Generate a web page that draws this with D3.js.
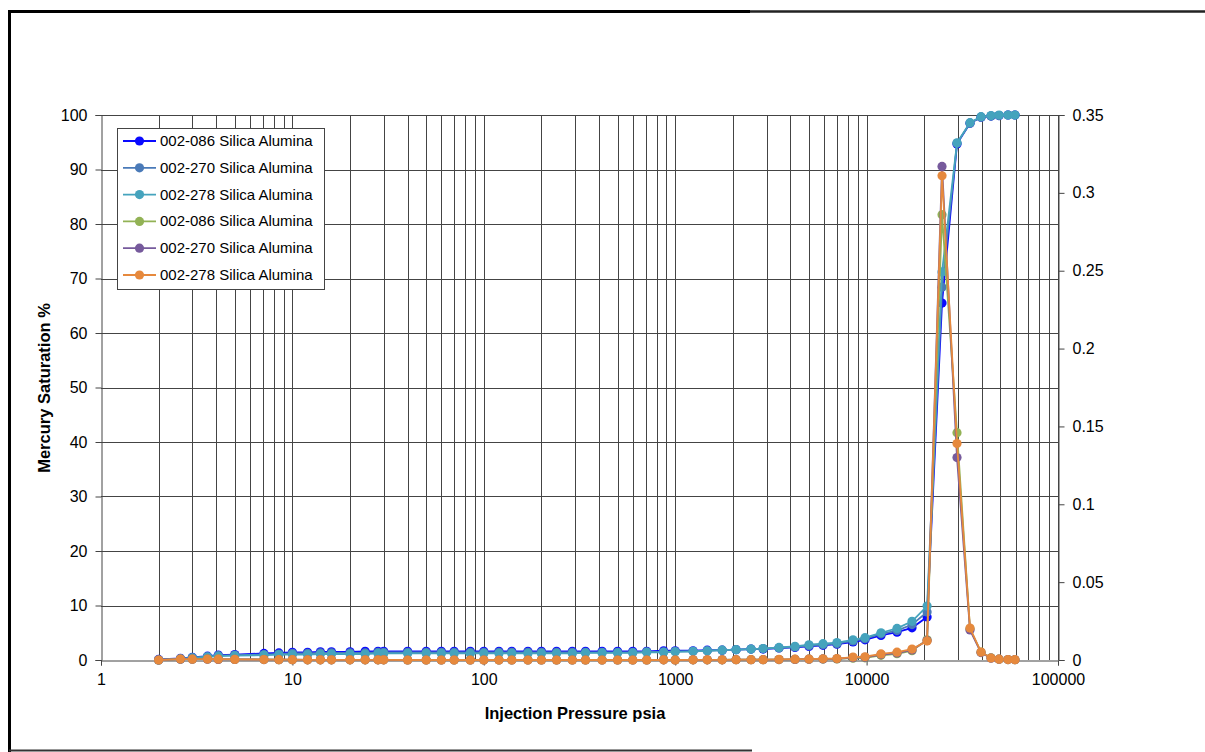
<!DOCTYPE html>
<html>
<head>
<meta charset="utf-8">
<script src="https://cdn.jsdelivr.net/npm/d3@7"></script>
<style>
   body { margin: 0; background: #fff; }
   svg { display: block; font-family: 'Liberation Sans', Arial, sans-serif; }
</style>
</head>
<body>
<div id="chart"></div>
<script>
/** DATA **/
var pressure = [2, 2.6, 3, 3.6, 4.1, 5, 7.1, 8.5, 10,
   12, 14, 16, 20, 24, 28, 30,
   40, 50, 60, 70, 85,
   100, 120, 140, 170, 200, 240, 290, 340, 415, 500, 600, 710, 870,
   1000, 1240, 1470, 1760, 2080, 2490, 2880, 3485, 4225, 5000, 5920, 7000, 8490, 9810,
   11890, 14420, 17270, 20700, 24780, 29670, 34690, 39610, 44670, 49200, 54800, 59600];

// cumulative mercury saturation %, left axis
var sat086 = [0.1, 0.3, 0.5, 0.7, 0.9, 1.0, 1.2, 1.3, 1.4,
   1.4, 1.5, 1.5, 1.5, 1.6, 1.6, 1.6,
   1.6, 1.6, 1.6, 1.6, 1.6,
   1.6, 1.6, 1.6, 1.6, 1.6, 1.6, 1.6, 1.6, 1.6, 1.6, 1.6, 1.6, 1.7,
   1.7, 1.7, 1.8, 1.8, 1.9, 2.0, 2.0, 2.2, 2.3, 2.5, 2.7, 2.9, 3.3, 3.7,
   4.5, 5.1, 5.9, 7.9, 65.5, 94.7, 98.5, 99.6, 99.8, 99.9, 100, 100];
var sat270 = [0, 0.2, 0.4, 0.6, 0.8, 0.9, 1.0, 1.1, 1.2,
   1.2, 1.3, 1.3, 1.3, 1.3, 1.4, 1.4,
   1.4, 1.4, 1.4, 1.4, 1.4,
   1.4, 1.4, 1.4, 1.4, 1.4, 1.4, 1.4, 1.4, 1.4, 1.4, 1.4, 1.5, 1.5,
   1.6, 1.6, 1.7, 1.8, 1.9, 2.0, 2.1, 2.2, 2.4, 2.6, 2.8, 3.0, 3.5, 3.9,
   4.8, 5.4, 6.5, 8.8, 68.4, 94.8, 98.5, 99.6, 99.8, 99.9, 100, 100];
var sat278 = [0, 0.2, 0.4, 0.6, 0.7, 0.8, 0.9, 1.0, 1.0,
   1.0, 1.1, 1.1, 1.1, 1.1, 1.2, 1.2,
   1.2, 1.2, 1.2, 1.2, 1.2,
   1.2, 1.2, 1.2, 1.2, 1.2, 1.2, 1.2, 1.3, 1.3, 1.3, 1.3, 1.4, 1.4,
   1.5, 1.6, 1.7, 1.8, 1.9, 2.0, 2.1, 2.3, 2.5, 2.8, 3.0, 3.2, 3.7, 4.1,
   5.0, 5.8, 7.1, 9.9, 71.2, 94.9, 98.6, 99.7, 99.9, 100, 100, 100];

// incremental intrusion, right axis
var inc086 = [0, 0.0006, 0.0005, 0.0006, 0.0005, 0.0004, 0.0004, 0.0002, 0.0002,
   0.0001, 0.0001, 0.0001, 0.0001, 0.0001, 0.0001, 0.0001,
   0, 0, 0, 0, 0,
   0, 0, 0, 0, 0, 0, 0, 0, 0, 0, 0, 0, 0.0001,
   0, 0.0001, 0.0001, 0.0001, 0.0002, 0.0002, 0.0002, 0.0003, 0.0004, 0.0005, 0.0006, 0.0007, 0.0012, 0.0014,
   0.003, 0.004, 0.006, 0.013, 0.286, 0.146, 0.020, 0.005, 0.0014, 0.0005, 0.0003, 0.0002];
var inc270 = [0, 0.0005, 0.0005, 0.0005, 0.0004, 0.0004, 0.0003, 0.0002, 0.0002,
   0.0001, 0.0001, 0.0001, 0.0001, 0.0001, 0.0001, 0.0001,
   0, 0, 0, 0, 0,
   0, 0, 0, 0, 0, 0, 0, 0, 0, 0, 0, 0, 0.0001,
   0, 0.0001, 0.0001, 0.0001, 0.0002, 0.0002, 0.0002, 0.0003, 0.0004, 0.0005, 0.0007, 0.0008, 0.0015, 0.0017,
   0.0035, 0.0045, 0.0065, 0.0125, 0.317, 0.130, 0.0193, 0.0048, 0.0012, 0.0005, 0.0003, 0.0002];
var inc278 = [0, 0.0006, 0.0005, 0.0006, 0.0005, 0.0004, 0.0003, 0.0002, 0.0002,
   0.0001, 0.0001, 0.0001, 0.0001, 0.0001, 0.0001, 0.0001,
   0, 0, 0, 0, 0,
   0, 0, 0, 0, 0, 0, 0, 0, 0, 0, 0, 0, 0.0001,
   0, 0.0001, 0.0001, 0.0001, 0.0002, 0.0002, 0.0002, 0.0004, 0.0005, 0.0006, 0.0008, 0.0009, 0.0019, 0.0021,
   0.0039, 0.005, 0.007, 0.0122, 0.311, 0.139, 0.0205, 0.0051, 0.0013, 0.0005, 0.0003, 0.0002];

var seriesNames = ['002-086 Silica Alumina', '002-270 Silica Alumina', '002-278 Silica Alumina',
   '002-086 Silica Alumina', '002-270 Silica Alumina', '002-278 Silica Alumina'];
var seriesColors = ['#0a0aff', '#4a7ab8', '#45a3bd', '#92b255', '#765a9c', '#e6893d'];

var xTicks = [1, 10, 100, 1000, 10000, 100000];
var yLeftTicks = [0, 10, 20, 30, 40, 50, 60, 70, 80, 90, 100];
var yRightTicks = [0, 0.05, 0.1, 0.15, 0.2, 0.25, 0.3, 0.35];

/** CHART **/
var width = 1205, height = 752;
var svg = d3.select('#chart').append('svg')
   .attr('width', width)
   .attr('height', height);

var x = d3.scaleLog().domain([1, 100000]).range([101, 1058]);
var yL = d3.scaleLinear().domain([0, 100]).range([660, 115]);
var yR = d3.scaleLinear().domain([0, 0.35]).range([660, 115]);

// outer frame
svg.append('path')
   .attr('d', 'M9.5,752 V11.5 H750')
   .attr('fill', 'none').attr('stroke', '#000').attr('stroke-width', 3);
svg.append('line')
   .attr('x1', 750).attr('x2', 1205).attr('y1', 11.5).attr('y2', 11.5)
   .attr('stroke', '#222').attr('stroke-width', 2.5);
svg.append('line')
   .attr('x1', 9).attr('x2', 752).attr('y1', 750.5).attr('y2', 750.5)
   .attr('stroke', '#333').attr('stroke-width', 2);

// grid
var minor = [];
xTicks.slice(0, -1).forEach(function(d){
   for (var k = 2; k <= 10; k++) minor.push(d * k);
});
var grid = svg.append('g').attr('stroke', '#444').attr('stroke-width', 1);
grid.selectAll('line.v')
   .data(minor)
   .enter().append('line')
   .attr('class', 'v')
   .attr('x1', function(d){ return Math.round(x(d)) + 0.5; })
   .attr('x2', function(d){ return Math.round(x(d)) + 0.5; })
   .attr('y1', yL(100)).attr('y2', yL(0));
grid.selectAll('line.h')
   .data(yLeftTicks.slice(1))
   .enter().append('line')
   .attr('class', 'h')
   .attr('x1', x(1)).attr('x2', x(100000))
   .attr('y1', function(d){ return Math.round(yL(d)) + 0.5; })
   .attr('y2', function(d){ return Math.round(yL(d)) + 0.5; });

// axes
var xAxis = svg.append('g')
   .attr('transform', 'translate(0,660.5)')
   .call(d3.axisBottom(x).tickValues(xTicks).tickFormat(d3.format('d')).tickSize(5).tickPadding(8));
var yAxisL = svg.append('g')
   .attr('transform', 'translate(101.5,0)')
   .call(d3.axisLeft(yL).tickValues(yLeftTicks).tickSize(6).tickPadding(8));
var yAxisR = svg.append('g')
   .attr('transform', 'translate(1058.5,0)')
   .call(d3.axisRight(yR).tickValues(yRightTicks).tickFormat(function(d){ return String(+d.toFixed(2)); }).tickSize(6).tickPadding(8));
[xAxis, yAxisL, yAxisR].forEach(function(a){
   a.selectAll('path.domain').attr('stroke', '#444');
   a.selectAll('.tick line').attr('stroke', '#444');
   a.selectAll('text').attr('font-size', 16).attr('fill', '#000')
      .attr('font-family', "'Liberation Sans', Arial, sans-serif");
});

// axis titles
svg.append('text')
   .attr('transform', 'translate(50,388) rotate(-90)')
   .attr('text-anchor', 'middle')
   .attr('font-size', 16.5).attr('font-weight', 'bold')
   .text('Mercury Saturation %');
svg.append('text')
   .attr('x', 575).attr('y', 719)
   .attr('text-anchor', 'middle')
   .attr('font-size', 16.5).attr('font-weight', 'bold')
   .text('Injection Pressure psia');

// series
var series = [
   { values: sat086, y: yL }, { values: sat270, y: yL }, { values: sat278, y: yL },
   { values: inc086, y: yR }, { values: inc270, y: yR }, { values: inc278, y: yR }
];
series.forEach(function(s, i){
   var pts = pressure.map(function(p, j){ return [x(p), s.y(s.values[j])]; });
   var g = svg.append('g');
   g.append('path')
      .attr('d', d3.line()(pts))
      .attr('fill', 'none')
      .attr('stroke', seriesColors[i])
      .attr('stroke-width', 1.8);
   g.selectAll('circle')
      .data(pts)
      .enter().append('circle')
      .attr('cx', function(d){ return d[0]; })
      .attr('cy', function(d){ return d[1]; })
      .attr('r', 4.6)
      .attr('fill', seriesColors[i]);
});

// legend
var legend = svg.append('g');
legend.append('rect')
   .attr('x', 117.5).attr('y', 128.5).attr('width', 207).attr('height', 161)
   .attr('fill', '#fff').attr('stroke', '#444');
seriesNames.forEach(function(name, i){
   var ly = 141 + i * 26.8;
   legend.append('line')
      .attr('x1', 123).attr('x2', 156).attr('y1', ly).attr('y2', ly)
      .attr('stroke', seriesColors[i]).attr('stroke-width', 1.8);
   legend.append('circle')
      .attr('cx', 139.5).attr('cy', ly).attr('r', 4.6)
      .attr('fill', seriesColors[i]);
   legend.append('text')
      .attr('x', 160).attr('y', ly + 5)
      .attr('font-size', 15)
      .text(name);
});
</script>
</body>
</html>
